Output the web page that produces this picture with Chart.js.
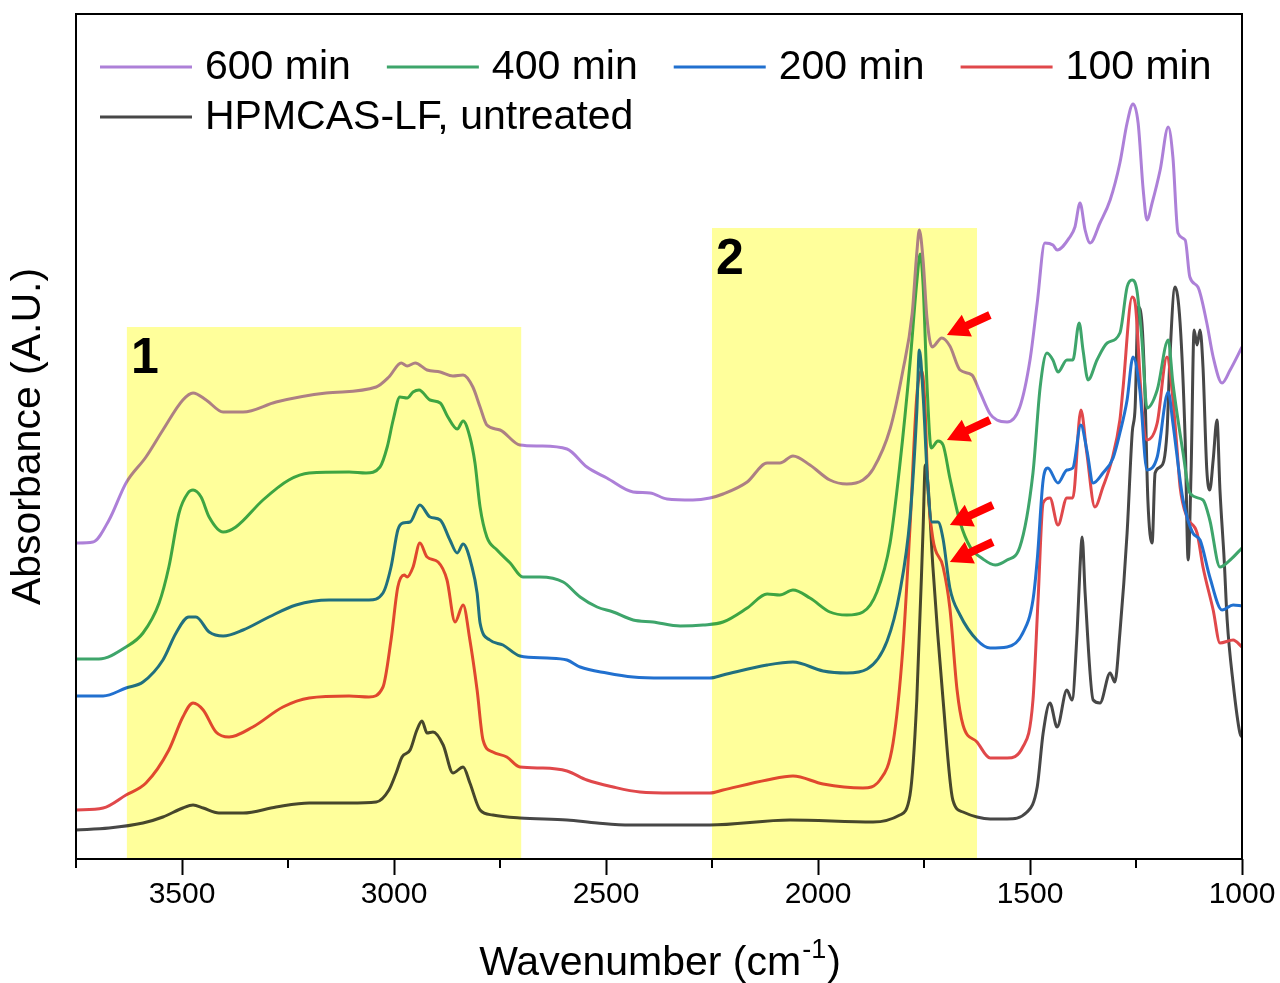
<!DOCTYPE html>
<html>
<head>
<meta charset="utf-8">
<script src="https://cdn.jsdelivr.net/npm/chart.js@4.4.1/dist/chart.umd.min.js"></script>
<style>
  html, body { margin: 0; padding: 0; background: #fff; }
  #wrap { width: 1280px; height: 983px; }
</style>
</head>
<body>
<div id="wrap"><canvas id="ftirChart"></canvas></div>
<script>
// FTIR spectra, wavenumber (cm-1) vs absorbance (a.u., curves offset)
var wn600 = [3750,3710,3672,3632,3585,3545,3498,3474,3443,3403,3356,3278,3160,3042,3012,2983,2969,2950,2922,2891,
  2861,2837,2814,2797,2781,2750,2703,2656,2592,2545,2498,2436,2396,2356,2295,2255,2224,2167,2120,2090,
  2059,2019,1972,1932,1894,1870,1830,1800,1778,1767,1761,1752,1743,1731,1708,1689,1665,1637,1618,1594,
  1578,1554,1524,1500,1483,1465,1446,1436,1406,1394,1382,1370,1358,1335,1311,1288,1271,1257,1245,1233,
  1224,1212,1193,1174,1163,1151,1134,1123,1104,1083,1068,1047,1028,1000];
var abs600 = [3.14,3.15,3.37,3.74,4.00,4.27,4.57,4.64,4.57,4.45,4.45,4.55,4.64,4.70,4.80,4.94,4.91,4.94,4.87,4.85,
  4.81,4.82,4.70,4.50,4.32,4.27,4.12,4.11,4.08,3.90,3.79,3.65,3.64,3.58,3.57,3.59,3.63,3.75,3.94,3.94,
  4.01,3.92,3.77,3.73,3.77,3.88,4.28,4.86,5.43,6.04,6.27,5.96,5.39,5.10,5.19,5.11,4.87,4.82,4.65,4.43,
  4.37,4.35,4.50,4.97,5.54,6.14,6.12,6.07,6.20,6.30,6.54,6.27,6.14,6.34,6.57,6.94,7.34,7.53,7.34,6.67,
  6.37,6.54,6.87,7.30,7.00,6.24,6.17,5.80,5.70,5.34,5.00,4.74,4.87,5.10];

var wn400 = [3750,3696,3632,3592,3554,3531,3507,3486,3474,3455,3436,3403,3373,3309,3248,3200,3106,3066,3033,3016,
  3002,2986,2969,2955,2941,2915,2891,2873,2851,2837,2821,2809,2797,2781,2757,2726,2696,2656,2601,2561,
  2521,2483,2436,2389,2325,2271,2224,2167,2120,2090,2059,2019,1972,1932,1894,1861,1830,1807,1783,1767,
  1759,1752,1743,1733,1717,1705,1689,1665,1641,1611,1582,1554,1524,1493,1476,1460,1446,1434,1413,1399,
  1384,1375,1363,1342,1318,1288,1271,1259,1248,1236,1224,1200,1174,1163,1139,1123,1092,1076,1052,1028,1000];
var abs400 = [1.98,1.98,2.10,2.24,2.54,2.90,3.44,3.64,3.67,3.60,3.40,3.25,3.30,3.57,3.77,3.84,3.85,3.84,3.90,4.10,
  4.37,4.60,4.59,4.65,4.67,4.57,4.54,4.40,4.28,4.36,4.20,3.94,3.50,3.20,3.07,2.94,2.80,2.80,2.75,2.60,
  2.50,2.45,2.37,2.35,2.31,2.32,2.35,2.49,2.63,2.62,2.67,2.59,2.45,2.42,2.45,2.65,3.14,3.92,4.94,5.75,
  6.03,5.71,4.73,4.09,4.16,4.12,3.79,3.35,3.10,2.98,2.92,2.97,3.10,3.84,4.70,5.04,4.97,4.85,4.97,4.97,
  5.34,5.07,4.77,4.97,5.14,5.24,5.70,5.77,5.67,5.17,4.49,4.67,5.17,4.74,4.04,3.64,3.57,3.37,2.90,2.97,3.09];

var wn200 = [3750,3686,3632,3592,3545,3514,3484,3467,3436,3403,3356,3295,3231,3153,3059,3026,3007,2991,2979,2962,
  2939,2915,2891,2868,2851,2837,2816,2804,2797,2774,2743,2703,2639,2592,2561,2498,2436,2366,2255,2224,
  2120,2059,1988,1932,1884,1837,1807,1783,1767,1761,1752,1741,1731,1717,1705,1689,1665,1625,1594,1554,
  1517,1493,1483,1469,1458,1434,1413,1399,1380,1366,1351,1328,1304,1288,1271,1257,1241,1224,1200,1174,
  1163,1146,1139,1116,1099,1076,1047,1021,1000];
var abs200 = [1.61,1.61,1.69,1.75,1.97,2.24,2.40,2.40,2.25,2.21,2.27,2.40,2.52,2.57,2.57,2.64,2.90,3.27,3.34,3.35,
  3.52,3.40,3.37,3.17,3.04,3.13,2.90,2.64,2.34,2.17,2.12,2.01,1.99,1.97,1.90,1.84,1.80,1.79,1.79,1.82,
  1.92,1.95,1.86,1.84,1.88,2.16,2.65,3.39,4.45,5.07,4.61,3.71,3.35,3.35,3.18,2.69,2.42,2.17,2.09,2.10,
  2.24,2.57,2.97,3.77,3.89,3.74,3.87,3.89,4.32,4.07,3.74,3.84,3.99,4.24,4.57,5.00,4.67,3.87,4.00,4.65,
  4.34,3.77,3.57,3.24,3.17,2.80,2.47,2.52,2.51];

var wn100 = [3750,3686,3632,3585,3531,3498,3474,3450,3420,3389,3333,3262,3200,3106,3059,3026,3007,2991,2976,2969,
  2955,2939,2922,2896,2875,2856,2837,2821,2804,2790,2767,2734,2703,2649,2592,2545,2483,2420,2342,2255,
  2224,2120,2059,1988,1894,1854,1823,1800,1783,1767,1755,1748,1741,1729,1705,1689,1672,1658,1625,1594,
  1554,1517,1493,1481,1469,1453,1434,1413,1399,1380,1366,1347,1328,1307,1288,1281,1259,1252,1236,1224,
  1200,1177,1165,1153,1146,1130,1106,1092,1068,1052,1021,1000];
var abs100 = [0.47,0.49,0.62,0.74,1.07,1.40,1.54,1.47,1.25,1.20,1.30,1.50,1.59,1.61,1.60,1.70,2.17,2.70,2.82,2.80,
  2.90,3.14,3.00,2.95,2.77,2.35,2.52,2.17,1.67,1.17,1.05,1.00,0.90,0.89,0.86,0.77,0.70,0.65,0.64,0.64,
  0.67,0.77,0.81,0.73,0.69,0.77,1.14,2.08,3.30,4.61,4.86,4.53,3.71,3.18,2.90,2.49,1.67,1.32,1.15,0.99,
  0.99,1.10,1.57,2.57,3.54,3.59,3.32,3.59,3.59,4.47,4.04,3.50,3.70,3.97,4.37,4.67,5.60,5.54,4.50,4.17,
  4.34,5.00,4.67,4.07,3.70,3.40,3.24,2.90,2.47,2.14,2.17,2.10];

var wnUntreated = [3750,3672,3592,3545,3498,3474,3450,3413,3356,3278,3200,3106,3042,3012,2995,2981,2962,2946,2934,2922,
  2908,2884,2861,2837,2821,2797,2767,2703,2592,2521,2443,2255,2066,1870,1807,1783,1767,1752,1747,1741,
  1729,1705,1682,1658,1625,1594,1554,1507,1483,1469,1453,1436,1413,1401,1389,1382,1377,1370,1351,1335,
  1311,1300,1288,1271,1259,1252,1245,1236,1229,1222,1212,1205,1193,1177,1170,1158,1146,1134,1127,1120,
  1113,1106,1099,1092,1083,1076,1068,1059,1052,1042,1035,1021,1005,1000];
var absUntreated = [0.27,0.29,0.34,0.40,0.49,0.52,0.49,0.44,0.44,0.50,0.54,0.54,0.55,0.67,0.84,1.00,1.07,1.27,1.36,1.24,
  1.25,1.12,0.84,0.90,0.74,0.47,0.42,0.39,0.37,0.34,0.32,0.32,0.37,0.35,0.42,0.62,1.57,3.30,3.92,3.75,
  2.90,1.57,0.57,0.45,0.40,0.38,0.38,0.45,0.70,1.24,1.54,1.30,1.67,1.57,2.24,2.90,3.20,2.64,1.57,1.54,
  1.84,1.75,2.24,3.24,4.24,4.50,5.50,5.34,4.67,3.57,3.14,3.84,3.90,4.24,5.00,5.70,5.34,4.17,2.97,3.87,
  5.27,5.12,5.27,4.90,3.87,3.67,3.97,4.37,3.67,2.97,2.37,1.74,1.24,1.20];

var xTicks = [1000, 1500, 2000, 2500, 3000, 3500];
var xMinorTicks = [1250, 1750, 2250, 2750, 3250, 3750];

// highlighted regions: wavenumber range and top edge (absorbance units)
var bandLabels = ['1', '2'];
var bandFrom = [3630, 2250];
var bandTo = [2700, 1625];
var bandTop = [5.30, 6.29];

// red arrows marking the shoulder near 1700 cm-1
var arrowWn = [1696, 1696, 1689, 1689];
var arrowAbs = [5.22, 4.17, 3.32, 2.95];

var FONT = '"Liberation Sans", Arial, sans-serif';

function points(xs, ys) {
  return xs.map(function(x, i) { return { x: x, y: ys[i] }; });
}

var bandPlugin = {
  id: 'bands',
  afterDatasetsDraw: function(chart) {
    var ctx = chart.ctx, xs = chart.scales.x, ys = chart.scales.y, area = chart.chartArea;
    ctx.save();
    ctx.globalCompositeOperation = 'multiply';
    ctx.fillStyle = 'rgb(255,255,155)';
    for (var i = 0; i < bandFrom.length; i++) {
      var x1 = xs.getPixelForValue(bandFrom[i]);
      var x2 = xs.getPixelForValue(bandTo[i]);
      var yt = ys.getPixelForValue(bandTop[i]);
      ctx.fillRect(x1, yt, x2 - x1, area.bottom - yt);
    }
    ctx.globalCompositeOperation = 'source-over';
    ctx.fillStyle = '#000';
    ctx.font = 'bold 50px ' + FONT;
    ctx.textBaseline = 'alphabetic';
    for (var j = 0; j < bandFrom.length; j++) {
      ctx.fillText(bandLabels[j], xs.getPixelForValue(bandFrom[j]) + 4, ys.getPixelForValue(bandTop[j]) + 46);
    }

    // arrows
    ctx.fillStyle = '#ff0000';
    for (var k = 0; k < arrowWn.length; k++) {
      var tx = xs.getPixelForValue(arrowWn[k]);
      var ty = ys.getPixelForValue(arrowAbs[k]);
      var dx = 43, dy = -20, len = Math.sqrt(dx * dx + dy * dy);
      var ux = dx / len, uy = dy / len, nx = -uy, ny = ux;
      var head = 22, hw = 12, sw = 4;
      var bx = tx + ux * head, by = ty + uy * head;
      var ex = tx + dx, ey = ty + dy;
      ctx.beginPath();
      ctx.moveTo(tx, ty);
      ctx.lineTo(bx + nx * hw, by + ny * hw);
      ctx.lineTo(bx + nx * sw, by + ny * sw);
      ctx.lineTo(ex + nx * sw, ey + ny * sw);
      ctx.lineTo(ex - nx * sw, ey - ny * sw);
      ctx.lineTo(bx - nx * sw, by - ny * sw);
      ctx.lineTo(bx - nx * hw, by - ny * hw);
      ctx.closePath();
      ctx.fill();
    }
    ctx.restore();
  }
};

var framePlugin = {
  id: 'frame',
  afterDraw: function(chart) {
    var ctx = chart.ctx, area = chart.chartArea, xs = chart.scales.x;
    ctx.save();
    ctx.strokeStyle = '#000';
    ctx.lineWidth = 2;
    ctx.strokeRect(area.left, area.top, area.right - area.left, area.bottom - area.top);
    ctx.beginPath();
    xMinorTicks.forEach(function(v) {
      var px = Math.round(xs.getPixelForValue(v));
      ctx.moveTo(px, area.bottom);
      ctx.lineTo(px, area.bottom + 9);
    });
    ctx.stroke();

    // x axis title with superscript
    var main = 'Wavenumber (cm', sup = '-1', close = ')';
    ctx.fillStyle = '#000';
    ctx.textBaseline = 'alphabetic';
    ctx.font = '41px ' + FONT;
    var w1 = ctx.measureText(main).width, w3 = ctx.measureText(close).width;
    ctx.font = '27px ' + FONT;
    var w2 = ctx.measureText(sup).width;
    var x = (area.left + area.right) / 2 - (w1 + w2 + w3) / 2;
    var y = area.bottom + 116;
    ctx.font = '41px ' + FONT;
    ctx.fillText(main, x, y);
    ctx.font = '27px ' + FONT;
    ctx.fillText(sup, x + w1 + 1, y - 17);
    ctx.font = '41px ' + FONT;
    ctx.fillText(close, x + w1 + w2 + 2, y);
    ctx.restore();
  }
};

var legendPlugin = {
  id: 'insideLegend',
  afterDraw: function(chart) {
    var ctx = chart.ctx, area = chart.chartArea;
    ctx.save();
    ctx.font = '41px ' + FONT;
    ctx.textBaseline = 'middle';
    ctx.fillStyle = '#000';
    var startX = area.left + 24;
    var x = startX, y = area.top + 53;
    chart.data.datasets.forEach(function(ds) {
      var w = ctx.measureText(ds.label).width;
      if (x + 105 + w > area.right - 10) { x = startX; y += 50; }
      ctx.strokeStyle = ds.borderColor;
      ctx.lineWidth = 3;
      ctx.beginPath();
      ctx.moveTo(x, y);
      ctx.lineTo(x + 92, y);
      ctx.stroke();
      ctx.fillText(ds.label, x + 105, y + 1);
      x += 105 + w + 36;
    });
    ctx.restore();
  }
};

var ctx = document.getElementById('ftirChart').getContext('2d');

var data = {
  datasets: [
    { label: '600 min', data: points(wn600, abs600), borderColor: '#AD80D8' },
    { label: '400 min', data: points(wn400, abs400), borderColor: '#3EA56B' },
    { label: '200 min', data: points(wn200, abs200), borderColor: '#2170CF' },
    { label: '100 min', data: points(wn100, abs100), borderColor: '#E0484B' },
    { label: 'HPMCAS-LF, untreated', data: points(wnUntreated, absUntreated), borderColor: '#474747' }
  ]
};

var config = {
  type: 'line',
  data: data,
  options: {
    responsive: true,
    maintainAspectRatio: false,
    animation: false,
    layout: { padding: { top: 14, right: 38, left: 0, bottom: 0 } },
    elements: {
      point: { radius: 0 },
      line: { borderWidth: 3, cubicInterpolationMode: 'monotone' }
    },
    plugins: {
      legend: { display: false },
      tooltip: { enabled: false }
    },
    scales: {
      x: {
        type: 'linear',
        reverse: true,
        min: 1000,
        max: 3750,
        afterBuildTicks: function(scale) {
          scale.ticks = xTicks.map(function(v) { return { value: v }; });
        },
        afterFit: function(scale) { scale.height = 124; },
        grid: { display: true, drawOnChartArea: false, drawTicks: true, tickLength: 16, tickWidth: 2, tickColor: '#000' },
        border: { display: false },
        ticks: {
          color: '#000',
          font: { family: FONT, size: 30 },
          padding: 2,
          maxRotation: 0,
          callback: function(value) { return String(value); }
        }
      },
      y: {
        min: -0.02,
        max: 8.43,
        afterFit: function(scale) { scale.width = 76; },
        grid: { display: false },
        border: { display: false },
        ticks: { display: false },
        title: {
          display: true,
          text: 'Absorbance (A.U.)',
          color: '#000',
          font: { family: FONT, size: 41 },
          padding: { top: 4, bottom: 0 }
        }
      }
    }
  },
  plugins: [bandPlugin, framePlugin, legendPlugin]
};

var myChart = new Chart(ctx, config);
</script>
</body>
</html>
